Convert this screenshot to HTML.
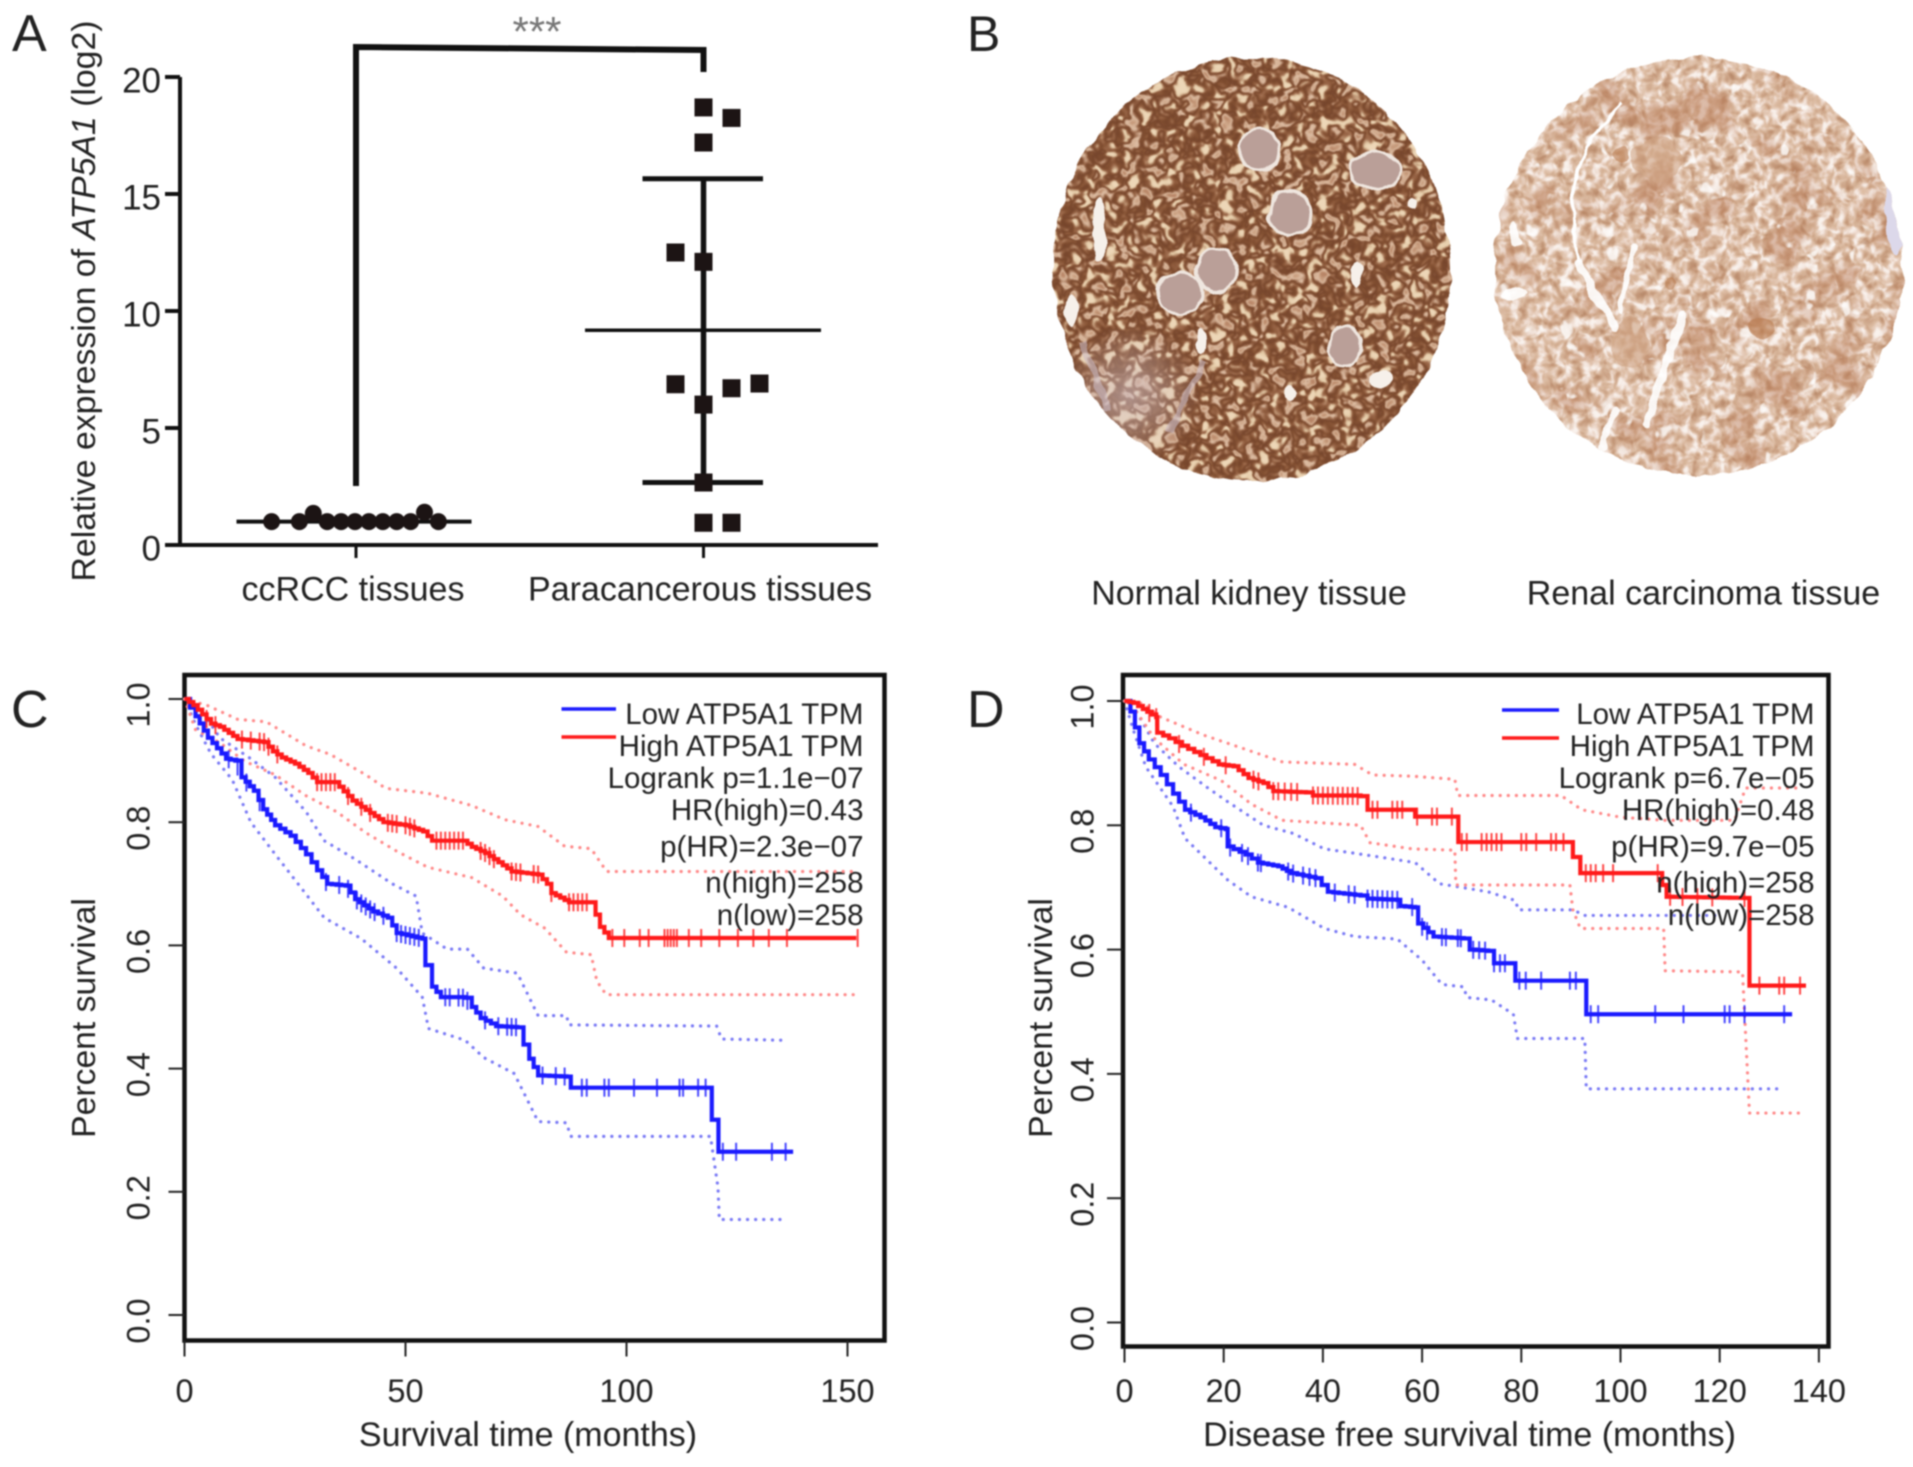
<!DOCTYPE html>
<html lang="en">
<head>
<meta charset="utf-8">
<title>ATP5A1 expression and survival in ccRCC</title>
<style>
html,body{margin:0;padding:0;background:#fff;}
#figure{display:block;filter:blur(.7px);}
text{font-family:"Liberation Sans",sans-serif;fill:#222;}
</style>
</head>
<body>
<svg id="figure" xmlns="http://www.w3.org/2000/svg" width="1913" height="1467" viewBox="0 0 1913 1467">
<defs>
  <clipPath id="clip-normal"><ellipse cx="1252" cy="269" rx="199" ry="212"/></clipPath>
  <clipPath id="clip-renal"><ellipse cx="1698.5" cy="266" rx="204" ry="209"/></clipPath>
  <radialGradient id="pale-patch">
    <stop offset="0" stop-color="#d2c2c8" stop-opacity=".6"/>
    <stop offset="1" stop-color="#d2c2c8" stop-opacity="0"/>
  </radialGradient>
  <filter id="rough" filterUnits="userSpaceOnUse" x="1030" y="30" width="880" height="480" color-interpolation-filters="sRGB">
    <feTurbulence type="fractalNoise" baseFrequency="0.055" numOctaves="2" seed="3" result="n"/>
    <feDisplacementMap in="SourceGraphic" in2="n" scale="9" xChannelSelector="R" yChannelSelector="G"/>
  </filter>
  <filter id="tubules" x="0" y="0" width="1" height="1" color-interpolation-filters="sRGB">
    <feTurbulence type="fractalNoise" baseFrequency="0.085" numOctaves="2" seed="7"/>
    <feColorMatrix type="matrix" values="1 0 0 0 0 1 0 0 0 0 1 0 0 0 0 0 0 0 0 1"/>
    <feComponentTransfer>
      <feFuncR type="table" tableValues=".72 .72 .72 .74 .80 .88 .60 .46 .52 .62 .90 .93 .93 .93 .93 .93"/>
      <feFuncG type="table" tableValues=".52 .52 .52 .55 .64 .76 .40 .27 .32 .42 .80 .84 .84 .84 .84 .84"/>
      <feFuncB type="table" tableValues=".40 .40 .40 .43 .52 .66 .28 .17 .20 .30 .66 .72 .72 .72 .72 .72"/>
    </feComponentTransfer>
    <feGaussianBlur stdDeviation=".6"/>
  </filter>
  <filter id="speckle" x="0" y="0" width="1" height="1" color-interpolation-filters="sRGB">
    <feTurbulence type="fractalNoise" baseFrequency="0.11" numOctaves="4" seed="12"/>
    <feColorMatrix type="matrix" values="1 0 0 0 0 1 0 0 0 0 1 0 0 0 0 0 0 0 0 1"/>
    <feComponentTransfer>
      <feFuncR type="table" tableValues=".72 .72 .72 .74 .77 .80 .83 .86 .89 .93 .96 .98 .98 .98 .98 .98"/>
      <feFuncG type="table" tableValues=".54 .54 .54 .56 .60 .64 .69 .73 .78 .85 .91 .95 .95 .95 .95 .95"/>
      <feFuncB type="table" tableValues=".42 .42 .42 .44 .48 .53 .58 .63 .70 .80 .88 .93 .93 .93 .93 .93"/>
    </feComponentTransfer>
    <feGaussianBlur stdDeviation=".5"/>
  </filter>
  <filter id="blotch" x="0" y="0" width="1" height="1" color-interpolation-filters="sRGB">
    <feTurbulence type="fractalNoise" baseFrequency="0.022" numOctaves="2" seed="21"/>
    <feColorMatrix type="matrix" values="0 0 0 0 .72  0 0 0 0 .48  0 0 0 0 .34  5 0 0 0 -2.5"/>
  </filter>
  <filter id="gaps" x="0" y="0" width="1" height="1" color-interpolation-filters="sRGB">
    <feTurbulence type="fractalNoise" baseFrequency="0.05" numOctaves="3" seed="33"/>
    <feColorMatrix type="matrix" values="0 0 0 0 1  0 0 0 0 1  0 0 0 0 1  9 0 0 0 -6"/>
  </filter>
</defs>

<!-- Panel letters -->
<text x="12" y="51" font-size="52">A</text>
<text x="967" y="51" font-size="50">B</text>
<text x="11" y="727" font-size="52">C</text>
<text x="967" y="727" font-size="52">D</text>

<!-- Panel A -->
<g id="panel-a">
  <text transform="translate(95 301) rotate(-90)" text-anchor="middle" font-size="33" textLength="561" lengthAdjust="spacingAndGlyphs">Relative expression of <tspan font-style="italic">ATP5A1</tspan> (log2)</text>
  <text x="537" y="46" text-anchor="middle" font-size="42" style="fill:#777">***</text>
  <path d="M356 486 V47 L703.5 50 V72" fill="none" stroke="#111" stroke-width="6"/>
  <text x="353" y="600.5" text-anchor="middle" font-size="34">ccRCC tissues</text>
  <text x="700" y="600.5" text-anchor="middle" font-size="34">Paracancerous tissues</text>
</g>

<!-- Panel B -->
<g id="panel-b">
  <g filter="url(#rough)">
    <g clip-path="url(#clip-normal)">
      <rect x="1045" y="50" width="415" height="440" filter="url(#tubules)"/>
      <ellipse cx="1130" cy="395" rx="70" ry="70" fill="url(#pale-patch)"/>
      <path d="M1204 361 L1168 434 M1082 340 L1108 410" stroke="#cdbcc4" stroke-width="7" fill="none" opacity=".6"/>
      <g fill="#ba9f98" stroke="#efe6df" stroke-width="3">
        <ellipse cx="1259" cy="150" rx="20" ry="21"/>
        <ellipse cx="1375" cy="170" rx="26" ry="19"/>
        <ellipse cx="1290" cy="213" rx="21" ry="22"/>
        <ellipse cx="1217" cy="270" rx="20" ry="22"/>
        <ellipse cx="1180" cy="293" rx="22" ry="21"/>
        <ellipse cx="1345" cy="346" rx="16" ry="20"/>
      </g>
      <g fill="#f6f0ea">
        <ellipse cx="1099" cy="230" rx="7" ry="32"/>
        <ellipse cx="1072" cy="311" rx="7" ry="16"/>
        <ellipse cx="1357" cy="275" rx="6" ry="14"/>
        <ellipse cx="1381" cy="379" rx="11" ry="7"/>
        <ellipse cx="1290" cy="393" rx="7" ry="8"/>
        <ellipse cx="1201" cy="340" rx="5" ry="12"/>
        <ellipse cx="1412" cy="203" rx="5" ry="6"/>
      </g>
    </g>
  </g>
  <g filter="url(#rough)">
    <g clip-path="url(#clip-renal)">
      <rect x="1485" y="50" width="425" height="440" filter="url(#speckle)"/>
      <rect x="1485" y="50" width="425" height="440" filter="url(#blotch)" opacity=".45"/>
      <rect x="1485" y="50" width="425" height="440" filter="url(#gaps)" opacity=".8"/>
      <g transform="translate(-5 0)">
        <g fill="#cfa484" opacity=".6">
          <ellipse cx="1662" cy="160" rx="26" ry="22"/>
          <ellipse cx="1635" cy="344" rx="18" ry="26"/>
          <ellipse cx="1766" cy="328" rx="13" ry="11" fill="#b97a4e"/>
          <ellipse cx="1626" cy="154" rx="8" ry="7" fill="#b97a4e"/>
          <ellipse cx="1675" cy="283" rx="6" ry="7" fill="#b97a4e"/>
        </g>
        <path d="M1626 102 Q1585 150 1580 184 T1583 262" fill="none" stroke="#fff" stroke-width="3.5"/>
        <g fill="none" stroke="#fff" stroke-linecap="round" opacity=".9">
          <path d="M1583 262 L1620 328" stroke-width="8"/>
          <path d="M1638 246 L1626 311" stroke-width="6"/>
          <path d="M1687 316 L1650 426" stroke-width="8"/>
          <path d="M1620 410 L1607 447" stroke-width="7"/>
          <path d="M1513 295 L1526 293" stroke-width="12"/>
          <path d="M1516 225 L1522 245" stroke-width="7"/>
        </g>
      </g>
      <ellipse cx="1895" cy="213" rx="10" ry="40" fill="#dcd8ea"/>
    </g>
  </g>
  <text x="1249" y="604.5" text-anchor="middle" font-size="34">Normal kidney tissue</text>
  <text x="1703.5" y="604.5" text-anchor="middle" font-size="34">Renal carcinoma tissue</text>
</g>

<!-- Panel C -->
<g id="panel-c">
  <text transform="translate(95 1018) rotate(-90)" text-anchor="middle" font-size="33.7">Percent survival</text>
  <text x="528" y="1446" text-anchor="middle" font-size="34">Survival time (months)</text>
  <line x1="561.5" x2="616" y1="709" y2="709" stroke="#1a1aff" stroke-width="3.5"/>
  <line x1="561.5" x2="616" y1="737" y2="737" stroke="#ff1a1a" stroke-width="3.5"/>
  <g font-size="29.5" text-anchor="end">
    <text x="863.5" y="724">Low ATP5A1 TPM</text>
    <text x="863.5" y="756">High ATP5A1 TPM</text>
    <text x="863.5" y="788">Logrank p=1.1e−07</text>
    <text x="863.5" y="820">HR(high)=0.43</text>
    <text x="863.5" y="856.5">p(HR)=2.3e−07</text>
    <text x="863.5" y="892.5">n(high)=258</text>
    <text x="863.5" y="925">n(low)=258</text>
  </g>
</g>

<!-- Panel D -->
<g id="panel-d">
  <text transform="translate(1052 1018) rotate(-90)" text-anchor="middle" font-size="33.7">Percent survival</text>
  <text x="1469.5" y="1446" text-anchor="middle" font-size="34">Disease free survival time (months)</text>
  <line x1="1502" x2="1559" y1="710" y2="710" stroke="#1a1aff" stroke-width="3.5"/>
  <line x1="1502" x2="1559" y1="738" y2="738" stroke="#ff1a1a" stroke-width="3.5"/>
</g>
<g id="panel-d-text" font-size="29.5" text-anchor="end">
  <text x="1814.5" y="724">Low ATP5A1 TPM</text>
  <text x="1814.5" y="756">High ATP5A1 TPM</text>
  <text x="1814.5" y="788">Logrank p=6.7e−05</text>
  <text x="1814.5" y="820">HR(high)=0.48</text>
  <text x="1814.5" y="856.5">p(HR)=9.7e−05</text>
  <text x="1814.5" y="892.5">n(high)=258</text>
  <text x="1814.5" y="925">n(low)=258</text>
</g>
</svg>

<script>
/* ---------- Panel A data ---------- */
const exprTicks = [0, 5, 10, 15, 20];
const ccrccValues = [1, 1, 1.35, 1, 1, 1, 1, 1, 1, 1, 1.4, 1];
const ccrccSlots = [-6, -4, -3, -2, -1, 0, 1, 2, 3, 4, 5, 6];
const ccrccMean = 1.0;
const paraValues = [18.7, 18.25, 17.2, 12.5, 12.1, 6.87, 6.7, 6.9, 6.0, 2.67, 0.95, 0.95];
const paraSlots = [0, 1, 0, -1, 0, -1, 1, 2, 0, 0, 0, 1];
const paraMean = 9.18;
const paraUpper = 15.65;
const paraLower = 2.67;

/* ---------- Panel C data ---------- */
const cXTicks = [0, 50, 100, 150];
const survTicks = ["0.0", "0.2", "0.4", "0.6", "0.8", "1.0"];

const cHighMonths = [0, 2, 4, 6, 8, 10, 12, 18, 20, 22, 25, 28, 30, 34, 36, 38, 40, 42, 45, 50, 54, 56, 63, 65, 68, 71, 74, 80, 82, 83, 87, 92, 93, 94, 96, 152];
const cHighSurv = [1, .99, .975, .96, .955, .945, .935, .93, .915, .905, .895, .88, .865, .865, .85, .835, .825, .815, .80, .795, .785, .77, .77, .76, .75, .735, .72, .715, .70, .685, .67, .67, .65, .63, .612, .612];
const cHighUpMonths = [0, 5, 12, 18.5, 27.5, 33, 41, 45.5, 55, 65, 72.5, 80, 86, 92, 95.5, 152];
const cHighUpSurv = [1, .99, .967, .963, .924, .91, .877, .855, .847, .827, .804, .793, .761, .757, .72, .72];
const cHighLoMonths = [0, 2.5, 8, 13.6, 20.5, 27.5, 34.4, 41, 48, 55, 65, 72, 76, 81.5, 86.4, 92, 93.3, 95.4, 152];
const cHighLoSurv = [1, .95, .929, .899, .877, .843, .817, .783, .753, .727, .71, .68, .65, .628, .589, .585, .542, .52, .52];
const cHighCensor = [5, 7, 13, 15, 17, 18, 19, 21, 30, 31, 32, 33, 34, 37, 40, 42, 46, 47, 48, 50, 51, 52, 57, 58, 59, 60, 61, 62, 63, 67, 68, 69, 70, 74, 75, 76, 79, 80, 83, 87, 88, 89, 90, 91, 96.8, 99.5, 103, 105, 108.6, 109.3, 110, 110.7, 111.4, 114.1, 116.9, 121, 125.2, 128.7, 132.2, 136.3, 152.3];

const cLowMonths = [0, 2.5, 5.3, 9.4, 11.5, 12.9, 15.7, 17.8, 20.5, 24, 27.5, 30, 32.3, 36.5, 38.6, 42.7, 46, 48, 53.8, 54.5, 56, 58, 63.5, 65, 67, 70.5, 75.3, 76.7, 78, 80, 86.4, 87.4, 119, 119.3, 120.8, 137.7];
const cLowSurv = [1, .972, .937, .903, .90, .873, .851, .821, .795, .778, .748, .722, .70, .697, .675, .655, .645, .62, .611, .568, .533, .516, .515, .50, .482, .469, .467, .439, .416, .389, .387, .369, .369, .317, .265, .265];
const cLowUpMonths = [0, 4, 8, 15, 20.5, 27.5, 31.6, 38.6, 47, 52.4, 53.8, 59.4, 64, 67.7, 75.3, 80, 86.4, 87, 120.4, 121.5, 135.6];
const cLowUpSurv = [1, .98, .937, .903, .873, .817, .77, .74, .70, .68, .62, .594, .594, .563, .555, .486, .486, .471, .469, .448, .446];
const cLowLoMonths = [0, 2.5, 6, 10.8, 15, 20.5, 26, 31.6, 40, 48, 53.8, 55.2, 63.5, 67.7, 74.6, 80, 86.4, 87.4, 119, 120.7, 121, 135.6];
const cLowLoSurv = [1, .959, .911, .869, .80, .748, .697, .645, .611, .563, .516, .465, .446, .418, .392, .314, .312, .29, .29, .207, .155, .155];
const cLowCensor = [10, 12, 14, 17, 32, 35, 37, 39, 40, 41, 42, 43, 45, 48, 49, 50, 51, 52, 53, 59, 60, 62, 63, 64, 68, 71, 73, 74, 75, 81, 84, 86, 89.9, 91, 95, 96, 101.7, 106.9, 112, 112.8, 116.2, 117.9, 121.8, 124.8, 132.9, 136];

/* ---------- Panel D data ---------- */
const dXTicks = [0, 20, 40, 60, 80, 100, 120, 140];

const dHighMonths = [0, 1.8, 3.7, 6.4, 6.6, 9, 11.6, 15.3, 19, 22, 25, 28, 30, 36.6, 38, 47.6, 49, 58, 58.6, 67.2, 67.3, 89.8, 90.4, 91.9, 107.5, 109.3, 125.8, 126, 137.4];
const dHighSurv = [1, .997, .987, .974, .949, .94, .928, .913, .898, .895, .876, .868, .855, .853, .848, .847, .825, .825, .814, .814, .773, .773, .749, .723, .723, .685, .683, .542, .542];
const dHighUpMonths = [0, 3.7, 7.3, 16, 25.6, 31.8, 46.4, 50, 58, 66.6, 67.2, 88, 92.2, 100, 109, 123, 125.2, 136];
const dHighUpSurv = [1, .996, .974, .945, .919, .902, .898, .881, .879, .874, .848, .848, .825, .813, .808, .808, .86, .86];
const dHighLoMonths = [0, 2.4, 6, 12, 19.5, 25.6, 31.8, 47.6, 49.5, 58, 66.6, 66.8, 89.8, 90.4, 91.9, 108.7, 109, 124.6, 126, 136.2];
const dHighLoSurv = [1, .983, .94, .898, .872, .834, .808, .80, .772, .762, .76, .704, .704, .664, .634, .634, .566, .564, .337, .337];
const dHighCensor = [5, 6.4, 11, 16, 20.4, 26, 27, 30, 31, 32.3, 33.6, 34.8, 38, 39, 40, 41, 42, 43, 44, 45, 46, 47, 50, 51, 54, 55, 56, 59, 62, 63, 66, 68, 69, 72, 73, 74, 75, 76, 80, 81, 83, 86, 87, 88.5, 93, 94, 95, 96.5, 98.5, 107.5, 110, 112.5, 115.5, 118.5, 125, 128, 132, 133, 136.2];

const dLowMonths = [0, 1.2, 3, 4.9, 7.3, 9.8, 12.2, 15.3, 18.3, 20.4, 20.8, 24.4, 26.9, 31, 33.6, 38.5, 41, 47.6, 49, 55, 55.6, 58.6, 59.2, 62.3, 68.4, 69.6, 73.3, 74.5, 78.4, 78.8, 92.8, 93.1, 134.6];
const dLowSurv = [1, .983, .932, .906, .881, .851, .825, .813, .797, .794, .766, .753, .74, .734, .723, .715, .693, .687, .682, .68, .67, .668, .642, .621, .618, .60, .598, .578, .578, .55, .55, .496, .496];
const dLowUpMonths = [0, 2.4, 6, 11, 17, 20.8, 28, 34, 40.3, 46.4, 53.8, 58.6, 63.5, 73.3, 78.8, 79.4, 90.4, 92.8, 120];
const dLowUpSurv = [1, .983, .932, .894, .859, .838, .80, .787, .762, .755, .746, .74, .706, .693, .679, .664, .664, .655, .655];
const dLowLoMonths = [0, 1.8, 4.3, 9.8, 12.2, 20.8, 25.6, 33, 40.3, 46.4, 55, 60, 64, 68.4, 69, 74, 78.4, 79.2, 92.8, 93.1, 133];
const dLowLoSurv = [1, .953, .894, .83, .779, .712, .685, .668, .634, .621, .617, .583, .544, .54, .523, .519, .496, .457, .457, .376, .376];
const dLowCensor = [13.4, 19.5, 21.3, 23.7, 24.9, 26.9, 27.5, 33, 34, 36, 37.3, 38.5, 42.4, 45.2, 46.4, 49, 50, 51, 52, 53, 54, 55, 58, 60, 61, 64, 64.8, 67.2, 67.8, 70.3, 71.5, 72.7, 74.5, 75.7, 76.7, 79.6, 80.9, 84, 89.8, 91, 94, 95.5, 107, 112.7, 121, 122, 125, 133];

/* ---------- Helpers ---------- */
const NS = 'http://www.w3.org/2000/svg';
function mk(parent, tag, attrs) {
  const el = document.createElementNS(NS, tag);
  for (const k in attrs) el.setAttribute(k, attrs[k]);
  parent.appendChild(el);
  return el;
}
/* Main curve: a staircase; long sloping segments are drawn as small stairs. */
function stairPath(ms, ss, x, y) {
  let d = 'M' + x(ms[0]) + ' ' + y(ss[0]);
  for (let i = 1; i < ms.length; i++) {
    const dm = ms[i] - ms[i - 1];
    const ds = ss[i] - ss[i - 1];
    const n = (Math.abs(ds) < 0.0015 || dm < 1.6) ? 1 : Math.ceil(dm / 1.3);
    for (let k = 1; k <= n; k++) {
      d += ' H' + x(ms[i - 1] + dm * k / n) + ' V' + y(ss[i - 1] + ds * k / n);
    }
  }
  return d;
}
function linePath(ms, ss, x, y) {
  let d = 'M' + x(ms[0]) + ' ' + y(ss[0]);
  for (let i = 1; i < ms.length; i++) d += ' L' + x(ms[i]) + ' ' + y(ss[i]);
  return d;
}
function survivalAt(ms, ss, m) {
  for (let i = 0; i < ms.length - 1; i++) {
    if (m >= ms[i] && m < ms[i + 1]) {
      return ss[i] + (ss[i + 1] - ss[i]) * (m - ms[i]) / (ms[i + 1] - ms[i]);
    }
  }
  return ss[ss.length - 1];
}

/* ---------- Panel A ---------- */
(function () {
  const g = document.getElementById('panel-a');
  const y = v => 545 - 23.4 * v;
  const cx1 = 355, cx2 = 703.5;

  const yAxis = mk(g, 'line', {x1: 180, x2: 180, y1: y(20), y2: 547, stroke: '#111', 'stroke-width': 4});
  
  
  const xAxis = mk(g, 'line', {x1: 165, x2: 878, y1: y(0), y2: y(0), stroke: '#111', 'stroke-width': 4});
  
  

  exprTicks.forEach(t => {
    const tick = mk(g, 'line', {x1: 165, x2: 180, y1: y(t), y2: y(t), stroke: '#111', 'stroke-width': 4});
    
    
    const lab = mk(g, 'text', {x: 161, y: y(t) + 15.5, 'text-anchor': 'end', 'font-size': 35});
    lab.textContent = t;
    
    
  });
  [cx1 + 1, cx2].forEach(cx => {
    const tick = mk(g, 'line', {x1: cx, x2: cx, y1: y(0), y2: 558, stroke: '#111', 'stroke-width': 3});
    
    
  });

  const meanA = mk(g, 'line', {x1: 236.5, x2: 471.5, y1: y(ccrccMean), y2: y(ccrccMean), stroke: '#111', 'stroke-width': 4});
  
  
  ccrccValues.forEach((v, i) => {
    const c = mk(g, 'ellipse', {cx: cx1 + ccrccSlots[i] * 13.9, cy: y(v), rx: 8.5, ry: 8.5, fill: '#1c1414'});
    
    
  });

  const stem = mk(g, 'line', {x1: cx2, x2: cx2, y1: y(paraUpper), y2: y(paraLower), stroke: '#111', 'stroke-width': 5.5});
  
  
  const meanB = mk(g, 'line', {x1: 585, x2: 821, y1: y(paraMean), y2: y(paraMean), stroke: '#111', 'stroke-width': 3.5});
  
  
  [paraUpper, paraLower].forEach(v => {
    const cap = mk(g, 'line', {x1: 642.5, x2: 763, y1: y(v), y2: y(v), stroke: '#111', 'stroke-width': 5});
    
    
  });
  paraValues.forEach((v, i) => {
    const r = mk(g, 'rect', {x: cx2 + paraSlots[i] * 28 - 9, y: y(v) - 9, width: 18, height: 18, fill: '#1c1414'});
    
    
  });
})();

/* ---------- Survival panels ---------- */
function drawSurvival(g, opt) {
  const x = m => opt.x0 + opt.xk * m;
  const y = s => opt.y0 - opt.yk * s;

  const box = mk(g, 'rect', {x: opt.left, y: opt.top, width: opt.right - opt.left, height: opt.bottom - opt.top, fill: 'none', stroke: '#111', 'stroke-width': 4.5});
  
  

  opt.xTicks.forEach(t => {
    const tick = mk(g, 'line', {x1: x(t), x2: x(t), y1: opt.bottom, y2: opt.bottom + 16, stroke: '#222', 'stroke-width': 2});
    
    
    const lab = mk(g, 'text', {x: x(t), y: 1402, 'text-anchor': 'middle', 'font-size': 32.5});
    lab.textContent = t;
    
    
  });
  survTicks.forEach(t => {
    const v = parseFloat(t);
    const tick = mk(g, 'line', {x1: opt.left - 16, x2: opt.left, y1: y(v), y2: y(v), stroke: '#222', 'stroke-width': 2});
    
    
    const lab = mk(g, 'text', {transform: 'translate(' + (opt.yLabelX + 11) + ' ' + (y(v) + 6) + ') rotate(-90)', 'text-anchor': 'middle', 'font-size': 32.5});
    lab.textContent = t;
    
    
  });

  opt.series.forEach(s => {
    const up = mk(g, 'path', {d: linePath(s.upM, s.upS, x, y), fill: 'none', stroke: s.light, 'stroke-width': 3.2, 'stroke-dasharray': '0.1 8', 'stroke-linecap': 'round'});
    
    
    const lo = mk(g, 'path', {d: linePath(s.loM, s.loS, x, y), fill: 'none', stroke: s.light, 'stroke-width': 3.2, 'stroke-dasharray': '0.1 8', 'stroke-linecap': 'round'});
    
    
  });
  opt.series.forEach(s => {
    const line = mk(g, 'path', {d: stairPath(s.m, s.s, x, y), fill: 'none', stroke: s.color, 'stroke-width': 4.2});
    
    
    s.censor.forEach(c => {
      const yc = y(survivalAt(s.m, s.s, c));
      const mark = mk(g, 'line', {x1: x(c), x2: x(c), y1: yc - 9, y2: yc + 9, stroke: s.color, 'stroke-width': 2, opacity: .8});
      
      
    });
  });
}

drawSurvival(document.getElementById('panel-c'), {
  x0: 184.5, xk: 4.42, y0: 1315, yk: 616,
  left: 184.5, right: 884.5, top: 675, bottom: 1340.5,
  yLabelX: 138.6, xTicks: cXTicks,
  series: [
    {name: 'low', color: '#1a1aff', light: '#7a7af5', m: cLowMonths, s: cLowSurv, upM: cLowUpMonths, upS: cLowUpSurv, loM: cLowLoMonths, loS: cLowLoSurv, censor: cLowCensor},
    {name: 'high', color: '#ff1a1a', light: '#ff8a8a', m: cHighMonths, s: cHighSurv, upM: cHighUpMonths, upS: cHighUpSurv, loM: cHighLoMonths, loS: cHighLoSurv, censor: cHighCensor}
  ]
});
drawSurvival(document.getElementById('panel-d'), {
  x0: 1124.5, xk: 4.96, y0: 1322.5, yk: 621.5,
  left: 1123, right: 1828.5, top: 675, bottom: 1346.5,
  yLabelX: 1082.5, xTicks: dXTicks,
  series: [
    {name: 'low', color: '#1a1aff', light: '#7a7af5', m: dLowMonths, s: dLowSurv, upM: dLowUpMonths, upS: dLowUpSurv, loM: dLowLoMonths, loS: dLowLoSurv, censor: dLowCensor},
    {name: 'high', color: '#ff1a1a', light: '#ff8a8a', m: dHighMonths, s: dHighSurv, upM: dHighUpMonths, upS: dHighUpSurv, loM: dHighLoMonths, loS: dHighLoSurv, censor: dHighCensor}
  ]
});
</script>
</body>
</html>
